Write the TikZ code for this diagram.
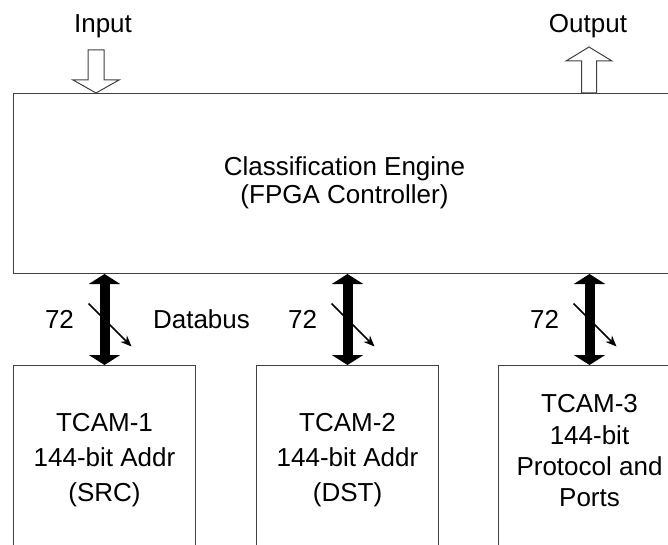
\documentclass[tikz,border=0pt]{standalone}
\usepackage{fontspec}
\setmainfont{Liberation Sans}
\usetikzlibrary{arrows.meta,calc}
\begin{document}
\begin{tikzpicture}[x=1pt,y=-1pt,
  box/.style={draw=black!75, line width=1pt, minimum width=182pt, minimum height=190pt,
              anchor=north west, inner sep=0pt},
  lbl/.style={font=\fontsize{26pt}{28pt}\selectfont, inner sep=0pt},
  bus/.style={line width=10pt, {Triangle[width=31pt,length=10pt]}-{Triangle[width=31pt,length=10pt]}},
  tick/.style={line width=1.5pt, -{Stealth[length=11pt,width=9pt]}},
  hollow/.style={draw=black!75, line width=1pt, fill=white, line join=miter}]

\clip (0,0) rectangle (668,545);

% controller and the three TCAM banks
\node[box, minimum width=663pt, minimum height=180pt] (engine) at (13,93) {};
\node[box] (tcam1) at (13,365) {};
\node[box] (tcam2) at (256,365) {};
\node[box] (tcam3) at (498,365) {};

\node[lbl, align=center, anchor=north] (enginetext) at (344.5,156)
  {Classification Engine\\(FPGA Controller)};
\node[lbl, font=\fontsize{26pt}{35pt}\selectfont, align=center, anchor=north] (tcam1text)
  at ($(tcam1.north)+(0,48)$) {TCAM-1\\144-bit Addr\\(SRC)};
\node[lbl, font=\fontsize{26pt}{35pt}\selectfont, align=center, anchor=north] (tcam2text)
  at ($(tcam2.north)+(0,48)$) {TCAM-2\\144-bit Addr\\(DST)};
\node[lbl, font=\fontsize{26pt}{31.3pt}\selectfont, align=center, anchor=north] (tcam3text)
  at ($(tcam3.north)+(0,29.4)$) {TCAM-3\\144-bit\\Protocol and\\Ports};

% hollow input / output arrows on the controller
\coordinate (inpt) at (96,93);
\coordinate (outpt) at (589,93);
\draw[hollow, shift={(inpt)}] (-8,-43) -- (8,-43) -- (8,-13) -- (23,-13) -- (0,0)
  -- (-23,-13) -- (-8,-13) -- cycle;
\draw[hollow, shift={(outpt)}] (-7.5,0) -- (-7.5,-32) -- (-23,-32) -- (0,-46)
  -- (23,-32) -- (7.5,-32) -- (7.5,0) -- cycle;
\node[lbl, anchor=base] (inlabel) at (103,33) {Input};
\node[lbl, anchor=base] (outlabel) at (588,33) {Output};

% 72-bit data buses
\foreach \b/\m in {tcam1/m1, tcam2/m2, tcam3/m3}{
  \draw[bus] (engine.south -| \b.north) -- (\b.north);
  \coordinate (\m) at ($(engine.south -| \b.north)!0.5!(\b.north)$);
  \draw[tick] ($(\m)+(-16,-16)$) -- ($(\m)+(27,27)$);
  \node[lbl, anchor=base] (w\m) at ($(\m)+(-45,9)$) {72};
}
\node[lbl, anchor=base] (databus) at ($(m1)+(97,9)$) {Databus};
\end{tikzpicture}
\end{document}
